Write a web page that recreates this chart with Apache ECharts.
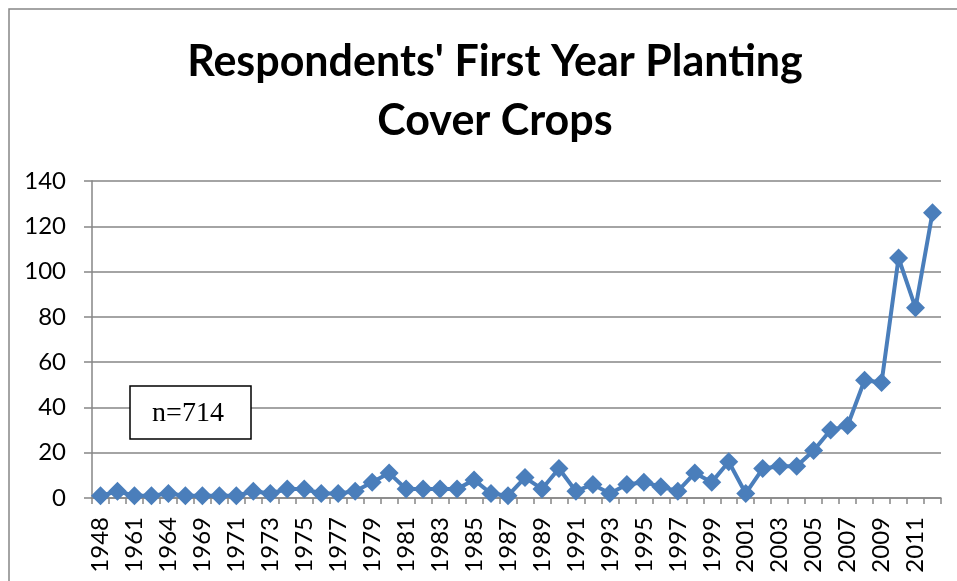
<!DOCTYPE html>
<html>
<head>
<meta charset="utf-8">
<script src="https://cdn.jsdelivr.net/npm/echarts@6/dist/echarts.min.js"></script>
<style>
html,body{margin:0;padding:0;background:#fff;}
#chart{width:957px;height:581px;}
</style>
</head>
<body>
<div id="chart"></div>
<script>
const years = ['1948','1960','1961','1963','1964','1968','1969','1970','1971','1972','1973','1974','1975','1976','1977','1978','1979','1980','1981','1982','1983','1984','1985','1986','1987','1988','1989','1990','1991','1992','1993','1994','1995','1996','1997','1998','1999','2000','2001','2002','2003','2004','2005','2006','2007','2008','2009','2010','2011','2012'];
const respondents = [1,3,1,1,2,1,1,1,1,3,2,4,4,2,2,3,7,11,4,4,4,4,8,2,1,9,4,13,3,6,2,6,7,5,3,11,7,16,2,13,14,14,21,30,32,52,51,106,84,126];
const yTicks = [0,20,40,60,80,100,120,140];
const titleText = "Respondents' First Year Planting\nCover Crops";
const noteText = 'n=714';

const chart = echarts.init(document.getElementById('chart'));
chart.setOption({
  animation: false,
  backgroundColor: '#fff',
  title: {
    text: titleText,
    left: 490, top: 28, textAlign: 'center',
    textStyle: {fontFamily: 'Lato', fontWeight: 'bold', fontSize: 43, lineHeight: 59, color: '#000'}
  },
  grid: {left: 92, right: 16, top: 181, bottom: 83},
  xAxis: {
    type: 'category',
    data: years,
    boundaryGap: true,
    axisLine: {lineStyle: {color: '#868686', width: 1.5}},
    axisTick: {show: true, interval: 0, length: 6, lineStyle: {color: '#868686', width: 1.5}},
    axisLabel: {interval: 1, rotate: 90, margin: 19, fontFamily: 'Lato', fontSize: 24, color: '#000'}
  },
  yAxis: {
    type: 'value',
    min: yTicks[0], max: yTicks[yTicks.length-1], interval: 20,
    axisLine: {show: true, lineStyle: {color: '#868686', width: 1.5}},
    axisTick: {show: true, length: 8, lineStyle: {color: '#868686', width: 1.5}},
    splitLine: {lineStyle: {color: '#868686', width: 1.5}},
    axisLabel: {margin: 26, fontFamily: 'Lato', fontSize: 24, color: '#000'}
  },
  graphic: [
    {type: 'rect', shape: {x: 9, y: 9, width: 1000, height: 600}, style: {fill: 'none', stroke: '#868686', lineWidth: 1.5}, z: -1},
    {type: 'rect', shape: {x: 130, y: 386, width: 121, height: 53}, style: {fill: '#fff', stroke: '#000', lineWidth: 1.5}, z: 10},
    {type: 'text', x: 188, y: 414, style: {text: noteText, fontFamily: 'Liberation Serif', fontSize: 28, fill: '#000', textAlign: 'center', textVerticalAlign: 'middle'}, z: 11}
  ],
  series: [{
    type: 'line',
    data: respondents,
    symbol: 'diamond',
    symbolSize: 19,
    showAllSymbol: true,
    lineStyle: {color: '#4a7ebb', width: 4},
    itemStyle: {color: '#4a7ebb'}
  }]
});
</script>
</body>
</html>
